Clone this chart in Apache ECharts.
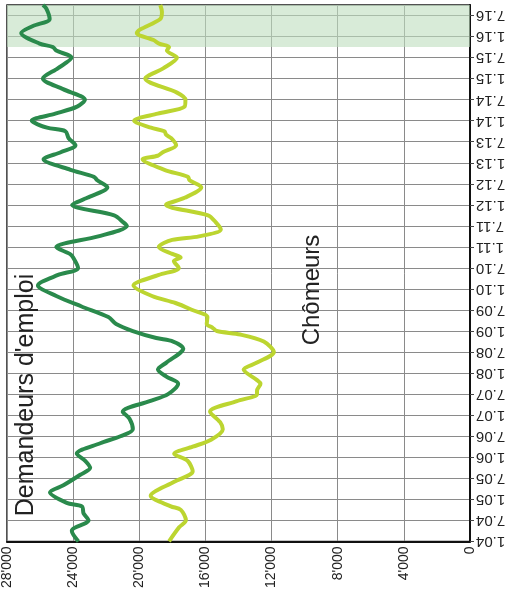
<!DOCTYPE html>
<html>
<head>
<meta charset="utf-8">
<script src="https://cdn.jsdelivr.net/npm/echarts@6/dist/echarts.min.js"></script>
<style>
html,body{margin:0;padding:0;background:#fff;}
#chart{width:510px;height:591px;}
</style>
</head>
<body>
<div id="chart"></div>
<script>
// Month index: 0 = Jan 2004 ("1.04"), 153 = Oct 2016
const startYear = 2004;
const tickValues = [0, 4000, 8000, 12000, 16000, 20000, 24000, 28000];

// Demandeurs d'emploi (job seekers)
const demMonths = [0,3,6,8,10,11,14,16,19,21,23,25,28,30,32,35,37,40,42,45,47,49,51,55,57,58,60,62,64,67,70,73,76,78,81,82,84,85,87,90,91,93,96,98,101,103,104,106,109,111,113,115,117,118,120,122,124,126,129,132,135,138,140,141,142,145,147,149,152,153];
const demValues = [23680,24080,23070,23370,23470,24390,25400,24590,23570,22970,23270,23780,22360,21140,20390,20590,21000,19370,18260,17650,18360,18870,18360,17340,17950,18970,20390,21400,21870,23490,25020,26130,24910,23700,24000,24200,25020,24510,22480,20750,20960,21520,24060,23150,21930,22540,22740,24160,25790,24750,23860,24270,24470,25580,26500,25080,23760,23290,24610,25830,24910,24100,25020,25220,26030,27140,26430,25420,25620,25830];

// Chômeurs (unemployed)
const chomMonths = [0,4,6,9,10,13,17,20,23,25,27,29,32,34,37,40,42,43,45,46,49,51,54,57,59,60,61,62,64,66,68,70,73,76,78,80,81,82,84,86,87,89,91,93,96,98,101,103,104,106,109,110,111,113,115,116,117,118,120,122,124,126,128,132,135,138,140,141,142,143,145,149,151,153];
const chomValues = [18200,17590,17180,17490,18090,19310,17890,16770,17080,17890,16770,15660,14950,15110,15720,14100,12880,12880,12670,12880,13690,12880,11860,12470,13890,15310,15580,15920,15880,16790,17810,19230,20350,18820,17610,17910,17500,18010,18820,18010,16390,15070,15370,15840,18380,17260,16250,16960,17060,18480,19800,18890,18580,17770,18070,18380,18480,19290,20310,18890,17260,17210,17720,19640,18530,17720,18330,18200,18800,19140,20150,18730,18630,18730];

// Shaded period (Oct 2015 - Oct 2016)
const shadeFrom = 141, shadeTo = 153;

function monthLabel(m) {
  if (m % 6 !== 0) return '';
  const y = startYear + Math.floor(m / 12);
  return (m % 12 === 0 ? '1.' : '7.') + String(y % 100).padStart(2, '0');
}
function thousands(v) {
  if (v === 0) return '0';
  return Math.floor(v / 1000) + "'" + String(v % 1000).padStart(3, '0');
}

const chart = echarts.init(document.getElementById('chart'), null, {renderer: 'canvas'});
const font = 'Liberation Sans, Arial, sans-serif';
chart.setOption({
  animation: false,
  backgroundColor: '#ffffff',
  grid: {left: 7, right: 40, top: 5, bottom: 48, show: true, borderColor: '#1a1a1a', borderWidth: 1.5, containLabel: false},
  xAxis: {
    type: 'value', inverse: true, position: 'bottom',
    min: tickValues[0], max: tickValues[tickValues.length - 1], interval: 4000,
    axisLine: {show: true, lineStyle: {color: '#111', width: 2}},
    axisTick: {show: false},
    splitLine: {show: true, lineStyle: {color: '#8a8a8a', width: 1}},
    axisLabel: {rotate: 90, margin: 5, fontSize: 14, color: '#222', fontFamily: font, formatter: thousands}
  },
  yAxis: {
    type: 'value', position: 'right',
    min: 0, max: 153, interval: 6,
    axisLine: {show: true, onZero: false, lineStyle: {color: '#111', width: 2}},
    axisTick: {show: true, length: 4, lineStyle: {color: '#444'}},
    splitLine: {show: true, lineStyle: {color: '#8a8a8a', width: 1}},
    axisLabel: {rotate: 180, margin: 6, fontSize: 15, color: '#222', fontFamily: font, formatter: monthLabel, showMaxLabel: false}
  },
  series: [
    {
      name: 'Chômeurs', type: 'line', smooth: 0.3, symbol: 'none',
      lineStyle: {color: '#bcd530', width: 4},
      data: chomMonths.map((m, i) => [chomValues[i], m]),
      markArea: {silent: true, itemStyle: {color: 'rgba(190,222,190,0.6)'}, data: [[{yAxis: shadeFrom}, {yAxis: shadeTo}]]},
      z: 3
    },
    {
      name: "Demandeurs d'emploi", type: 'line', smooth: 0.3, symbol: 'none',
      lineStyle: {color: '#2a8a4c', width: 4},
      data: demMonths.map((m, i) => [demValues[i], m]),
      z: 4
    }
  ],
  graphic: [
    {type: 'text', x: 26, y: 395, rotation: Math.PI / 2, z: 10,
     style: {text: "Demandeurs d'emploi", font: '25px ' + font, fill: '#222', textAlign: 'center', textVerticalAlign: 'middle'}},
    {type: 'text', x: 312, y: 290, rotation: Math.PI / 2, z: 10,
     style: {text: 'Chômeurs', font: '24px ' + font, fill: '#222', textAlign: 'center', textVerticalAlign: 'middle'}}
  ]
});
</script>
</body>
</html>
